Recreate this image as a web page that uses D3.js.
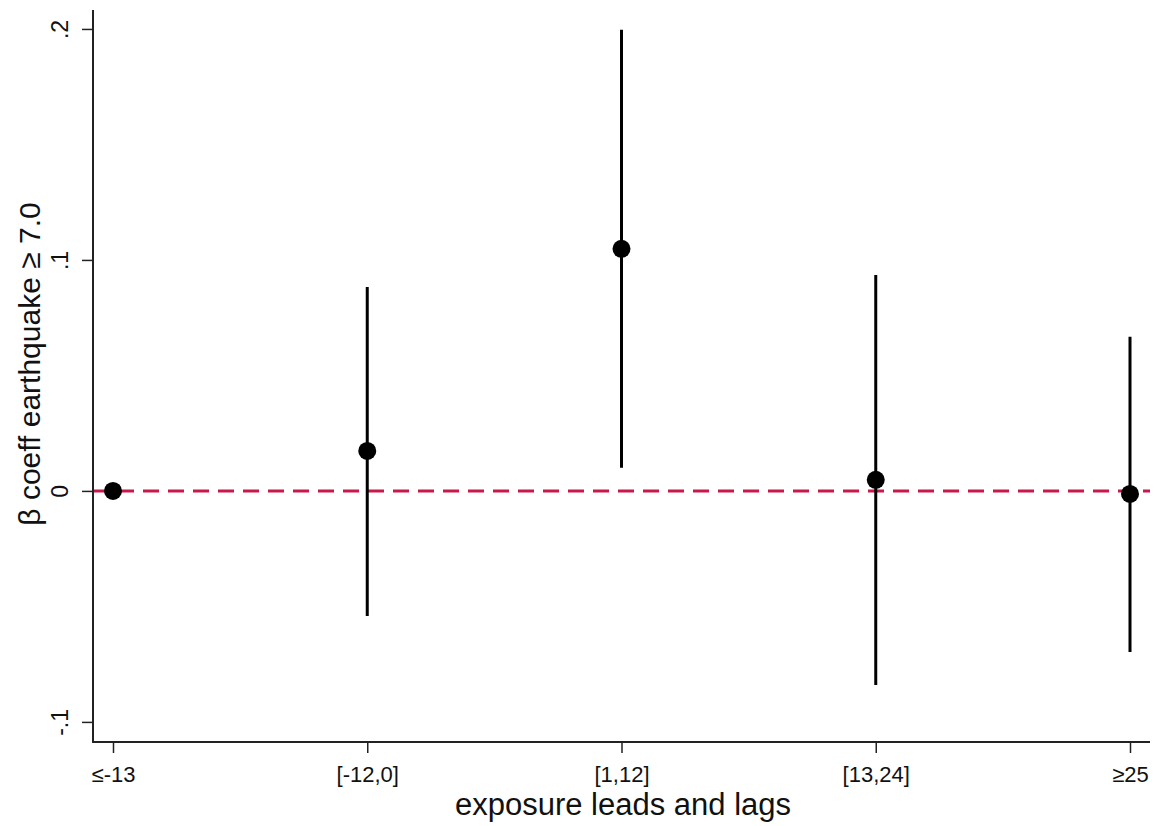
<!DOCTYPE html>
<html>
<head>
<meta charset="utf-8">
<script src="https://cdn.jsdelivr.net/npm/d3@7"></script>
<style>
  body { margin: 0; background: #fff; }
  svg { display: block; font-family: "Liberation Sans", Arial, sans-serif; }
</style>
</head>
<body>
<svg id="chart" width="1158" height="826"></svg>
<script>
// categories and estimates
const categories = ['≤-13', '[-12,0]', '[1,12]', '[13,24]', '≥25'];
const estimates  = [0, 0.0173, 0.1048, 0.0048, -0.0013];
const ciLower    = [null, -0.0541, 0.0100, -0.0840, -0.0697];
const ciUpper    = [null, 0.0883, 0.1996, 0.0935, 0.0667];
const yTicks     = [-0.1, 0, 0.1, 0.2];
const yTickText  = ['-.1', '0', '.1', '.2'];

const svg = d3.select('#chart');
const axisLeftX = 93, axisBottomY = 742;

const x = d3.scalePoint().domain(categories).range([113, 1130]);
const y = d3.scaleLinear().domain([-0.1087, 0.2082]).range([axisBottomY, 10]);

const rows = categories.map((c, i) => ({
    cat: c, est: estimates[i], lo: ciLower[i], hi: ciUpper[i]
}));

// reference line at zero
svg.append('line')
    .attr('x1', axisLeftX).attr('x2', 1150)
    .attr('y1', y(0)).attr('y2', y(0))
    .attr('stroke', '#c8194a')
    .attr('stroke-width', 3)
    .attr('stroke-dasharray', '16,9');

// confidence intervals
svg.selectAll('line.ci')
    .data(rows.filter(d => d.lo !== null))
    .enter()
    .append('line')
    .classed('ci', true)
    .attr('x1', d => x(d.cat)).attr('x2', d => x(d.cat))
    .attr('y1', d => y(d.lo)).attr('y2', d => y(d.hi))
    .attr('stroke', '#000')
    .attr('stroke-width', 3);

// point estimates
svg.selectAll('circle.est')
    .data(rows)
    .enter()
    .append('circle')
    .classed('est', true)
    .attr('cx', d => x(d.cat))
    .attr('cy', d => y(d.est))
    .attr('r', 9)
    .attr('fill', '#000');

// y axis
const yAxis = svg.append('g')
    .attr('transform', `translate(${axisLeftX},0)`)
    .call(d3.axisLeft(y).tickValues(yTicks).tickSize(11)
        .tickFormat((d, i) => yTickText[i]));
yAxis.select('.domain').remove();
yAxis.selectAll('.tick line').attr('stroke', '#222').attr('stroke-width', 1.5);
yAxis.selectAll('.tick text')
    .attr('x', null).attr('dy', null)
    .attr('transform', 'translate(-25,0) rotate(-90)')
    .attr('text-anchor', 'middle')
    .attr('font-size', 23)
    .attr('fill', '#111');
svg.append('line')
    .attr('x1', axisLeftX).attr('x2', axisLeftX)
    .attr('y1', 10).attr('y2', axisBottomY + 1)
    .attr('stroke', '#222').attr('stroke-width', 2);

// x axis
const xAxis = svg.append('g')
    .attr('transform', `translate(0,${axisBottomY})`)
    .call(d3.axisBottom(x).tickSize(11).tickPadding(13));
xAxis.select('.domain').remove();
xAxis.selectAll('.tick line').attr('stroke', '#222').attr('stroke-width', 1.5);
xAxis.selectAll('.tick text').attr('font-size', 22).attr('fill', '#111');
svg.append('line')
    .attr('x1', axisLeftX - 1).attr('x2', 1150)
    .attr('y1', axisBottomY).attr('y2', axisBottomY)
    .attr('stroke', '#222').attr('stroke-width', 2);

// axis titles
svg.append('text')
    .attr('x', 623).attr('y', 815)
    .attr('text-anchor', 'middle')
    .attr('font-size', 31)
    .attr('fill', '#111')
    .text('exposure leads and lags');

svg.append('text')
    .attr('transform', 'translate(40,364) rotate(-90)')
    .attr('text-anchor', 'middle')
    .attr('font-size', 30)
    .attr('fill', '#111')
    .text('β coeff earthquake ≥ 7.0');
</script>
</body>
</html>
